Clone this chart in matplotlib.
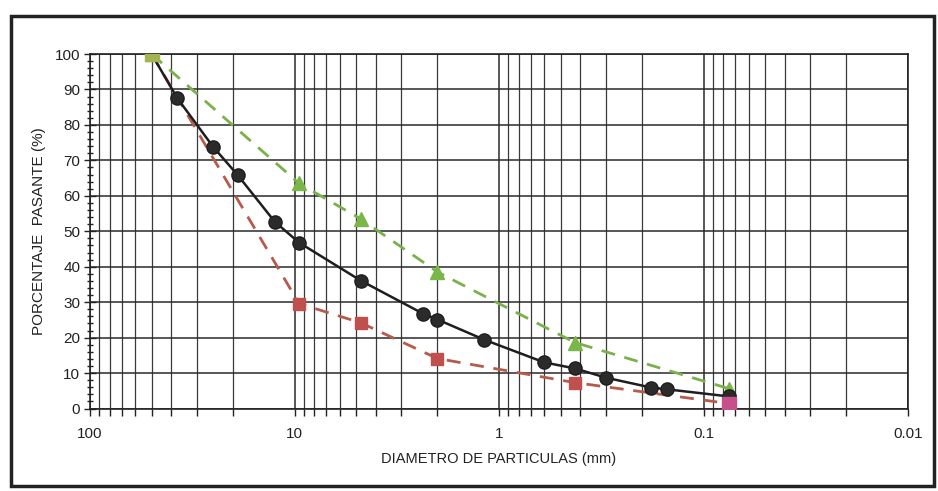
import numpy as np
import matplotlib.pyplot as plt
from matplotlib.ticker import LogLocator, FixedLocator, MultipleLocator, FuncFormatter

plt.rcParams['font.family'] = ['Liberation Sans', 'DejaVu Sans']

# gradation curve (black, circles)
d_muestra = [50, 37.5, 25, 19, 12.5, 9.5, 4.75, 2.36, 2.0, 1.18, 0.6, 0.425, 0.3, 0.18, 0.15, 0.075]
p_muestra = [100, 87.6, 73.8, 65.9, 52.7, 46.8, 36.1, 26.8, 25.1, 19.4, 13.0, 11.3, 8.7, 5.9, 5.4, 3.4]

# upper limit (green, triangles)
d_sup = [50, 9.5, 4.75, 2.0, 0.425, 0.075]
p_sup = [100, 63.5, 53.5, 38.5, 18.6, 5.6]

# lower limit (red, squares)
d_inf = [50, 9.5, 4.75, 2.0, 0.425, 0.075]
p_inf = [100, 29.6, 24.2, 14.1, 7.3, 1.4]

xticks = [100, 10, 1, 0.1, 0.01]
xticklabels = ['100', '10', '1', '0.1', '0.01']

fig = plt.figure(figsize=(9.38, 4.91), dpi=100)
# outer frame round the whole chart
fig.patches.append(plt.Rectangle((0.012, 0.01), 0.984, 0.958, transform=fig.transFigure,
                                 fill=False, edgecolor='#222222', linewidth=2.5))
ax = fig.add_axes([0.096, 0.168, 0.872, 0.722])

ax.plot(d_inf, p_inf, color='#b65a4a', linestyle=(0, (5, 3.5)), linewidth=2,
        marker='s', markersize=8.5, markerfacecolor='#c0504d', markeredgecolor='#c0504d', zorder=3)
ax.plot(d_sup, p_sup, color='#79b14a', linestyle=(0, (5, 3.5)), linewidth=2,
        marker='^', markersize=9.5, markerfacecolor='#7ab648', markeredgecolor='#7ab648', zorder=3)
ax.plot(d_muestra, p_muestra, color='#1e1e1e', linewidth=1.8,
        marker='o', markersize=9.5, markerfacecolor='#2b2b2b', markeredgecolor='#1e1e1e', zorder=4)
ax.plot(d_inf[-1:], p_inf[-1:], linestyle='none', marker='s', markersize=9.5,
        color='#c8508a', zorder=5)
ax.plot(d_sup[:1], p_sup[:1], linestyle='none', marker='s', markersize=9.5,
        color='#a4b450', zorder=5)

ax.set_xscale('log')
ax.set_xlim(100, 0.01)
ax.set_ylim(0, 100)

ax.xaxis.set_major_locator(FixedLocator(xticks))
ax.xaxis.set_major_formatter(FuncFormatter(lambda v, pos: xticklabels[xticks.index(v)] if v in xticks else ''))
ax.xaxis.set_minor_locator(LogLocator(base=10, subs=np.arange(2, 10), numticks=20))
ax.xaxis.set_minor_formatter(FuncFormatter(lambda v, pos: ''))
ax.yaxis.set_major_locator(MultipleLocator(10))
ax.yaxis.set_minor_locator(MultipleLocator(2))

ax.grid(True, which='major', axis='both', color='#2a2a2a', linewidth=1.1)
ax.grid(True, which='minor', axis='x', color='#3a3a3a', linewidth=0.9)
ax.set_axisbelow(True)

ax.tick_params(axis='x', which='both', direction='out', length=5, width=1, colors='#222222',
               labelsize=11, pad=8)
ax.tick_params(axis='y', which='major', direction='inout', length=8, width=1, colors='#222222',
               labelsize=11, pad=3)
ax.tick_params(axis='y', which='minor', direction='inout', length=5, width=1, colors='#222222')

for s in ax.spines.values():
    s.set_color('#222222')
    s.set_linewidth(1.2)

ax.set_xlabel('DIAMETRO DE PARTICULAS (mm)', fontsize=10.5, color='#222222', labelpad=8)
ax.set_ylabel('PORCENTAJE  PASANTE (%)', fontsize=11, color='#222222', labelpad=6)

fig.savefig('out.png', dpi=100)
